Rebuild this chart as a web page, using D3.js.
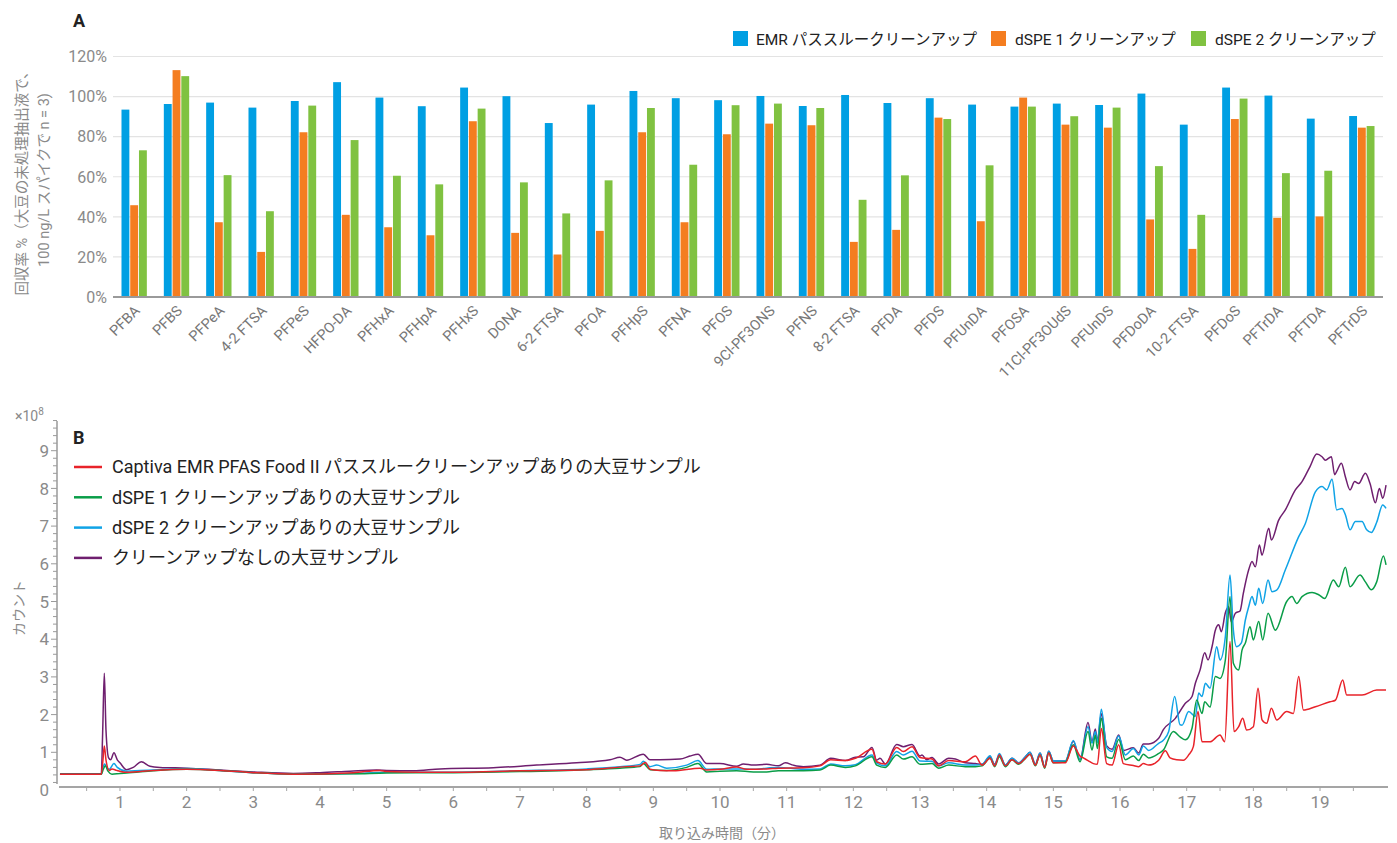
<!DOCTYPE html>
<html>
<head>
<meta charset="utf-8">
<script src="https://cdn.jsdelivr.net/npm/d3@7"></script>
<style>
  html, body { margin: 0; padding: 0; background: #fff; }
  svg { display: block; font-family: Roboto, "Noto Sans CJK JP", sans-serif; }
</style>
</head>
<body>
<svg id="chart" width="1397" height="843"></svg>
<script>
// ---------------- Panel A data ----------------
const compounds = ["PFBA","PFBS","PFPeA","4-2 FTSA","PFPeS","HFPO-DA","PFHxA","PFHpA","PFHxS","DONA","6-2 FTSA","PFOA","PFHpS","PFNA","PFOS","9Cl-PF3ONS","PFNS","8-2 FTSA","PFDA","PFDS","PFUnDA","PFOSA","11Cl-PF3OUdS","PFUnDS","PFDoDA","10-2 FTSA","PFDoS","PFTrDA","PFTDA","PFTrDS"];
const emrRecovery  = [93.5, 96.3, 97, 94.5, 97.8, 107.2, 99.5, 95.2, 104.5, 100.2, 86.8, 96, 102.8, 99.2, 98.2, 100.3, 95.3, 100.8, 96.8, 99.2, 96, 95, 96.5, 95.8, 101.5, 86, 104.5, 100.5, 89, 90.3];
const dspe1Recovery = [45.8, 113.2, 37.3, 22.5, 82.2, 41, 34.8, 30.8, 87.7, 32, 21.2, 33, 82.2, 37.3, 81.2, 86.5, 85.7, 27.5, 33.5, 89.5, 37.8, 99.5, 86, 84.5, 38.7, 24, 88.8, 39.5, 40.2, 84.5];
const dspe2Recovery = [73.2, 110.2, 60.8, 42.8, 95.5, 78.3, 60.5, 56.2, 94, 57.2, 41.7, 58.2, 94.3, 66, 95.7, 96.5, 94.3, 48.5, 60.7, 88.8, 65.7, 95, 90.2, 94.5, 65.3, 41, 99, 61.8, 63, 85.3];
const recoveryTicks = [0, 20, 40, 60, 80, 100, 120];
const barSeriesNames = ["EMR パススルークリーンアップ", "dSPE 1 クリーンアップ", "dSPE 2 クリーンアップ"];

// ---------------- Panel B data (retention time in min, counts in 1e8) ----------------
const noCleanTime = [0.1,0.72,0.74,0.765,0.79,0.83,0.86,0.91,0.96,1.0,1.1,1.2,1.32,1.45,1.6,2.0,2.5,3.0,3.6,4.0,4.45,4.85,5.0,5.4,5.8,6.6,7.25,7.85,8.35,8.5,8.6,8.85,8.95,9.1,9.4,9.55,9.67,9.8,10.0,10.25,10.35,10.5,10.7,10.875,10.98,11.1,11.25,11.5,11.66,11.88,12.03,12.15,12.28,12.35,12.4,12.48,12.65,12.75,12.88,13.0,13.03,13.1,13.18,13.28,13.43,13.53,13.68,13.83,13.93,14.05,14.12,14.19,14.28,14.38,14.48,14.58,14.65,14.73,14.8,14.87,14.93,15.0,15.18,15.3,15.4,15.52,15.58,15.63,15.66,15.72,15.8,15.88,15.98,16.05,16.2,16.28,16.35,16.43,16.58,16.65,16.83,16.98,17.08,17.13,17.2,17.27,17.32,17.38,17.43,17.48,17.52,17.58,17.63,17.67,17.73,17.8,17.85,17.93,17.98,18.03,18.09,18.13,18.23,18.27,18.38,18.48,18.63,18.73,18.85,18.95,19.03,19.08,19.17,19.22,19.25,19.32,19.38,19.45,19.52,19.58,19.68,19.75,19.83,19.89,19.94,19.99];
const noCleanCounts = [0.43,0.43,1.5,3.1,1.6,0.85,0.8,0.99,0.8,0.72,0.54,0.6,0.75,0.63,0.6,0.58,0.53,0.48,0.44,0.46,0.5,0.53,0.52,0.51,0.56,0.59,0.66,0.72,0.8,0.87,0.79,0.95,0.8,0.8,0.82,0.9,0.95,0.7,0.7,0.63,0.69,0.66,0.68,0.64,0.72,0.66,0.62,0.66,0.84,0.78,0.87,0.88,1.13,0.79,0.84,0.69,1.21,1.15,1.21,0.9,0.93,0.8,0.86,0.69,0.84,0.82,0.72,0.7,0.68,0.88,0.68,0.93,0.66,0.84,0.72,0.88,1.0,0.68,0.98,0.62,1.03,0.77,0.77,1.29,0.8,1.79,1.28,1.62,1.3,2.02,1.17,1.08,1.46,1.05,1.12,0.98,1.22,1.22,1.37,1.6,1.9,2.3,2.48,2.83,3.18,3.64,3.45,3.8,4.24,4.38,4.2,4.7,4.86,4.45,4.69,4.75,5.22,5.84,6.06,5.92,6.5,6.23,6.94,6.63,7.16,7.43,7.96,8.18,8.58,8.91,8.84,8.75,8.84,8.36,8.45,8.67,8.31,7.96,8.18,8.13,8.4,8.13,7.62,8.0,7.74,8.09];

const dspe2Time = [0.1,0.72,0.745,0.77,0.8,0.84,0.91,0.96,1.1,1.3,1.6,2.0,2.5,3.0,3.6,4.5,5.0,6.0,7.0,8.0,8.5,8.8,8.85,8.95,9.05,9.2,9.5,9.67,9.8,10.0,10.25,10.5,10.7,10.875,11.25,11.5,11.66,11.88,12.03,12.28,12.35,12.48,12.65,12.75,12.88,13.0,13.18,13.28,13.43,13.68,13.83,13.93,14.05,14.12,14.19,14.28,14.38,14.48,14.58,14.65,14.73,14.8,14.87,14.93,15.0,15.18,15.3,15.4,15.52,15.58,15.63,15.66,15.72,15.8,15.88,15.98,16.08,16.2,16.28,16.35,16.43,16.58,16.65,16.73,16.82,16.9,16.93,17.03,17.13,17.18,17.23,17.28,17.35,17.45,17.5,17.58,17.65,17.7,17.75,17.82,17.88,17.93,17.98,18.03,18.08,18.14,18.22,18.28,18.35,18.48,18.68,18.78,18.93,19.03,19.1,19.18,19.25,19.33,19.38,19.45,19.53,19.63,19.7,19.77,19.85,19.94,19.99];
const dspe2Counts = [0.42,0.42,0.6,0.69,0.6,0.55,0.7,0.6,0.5,0.52,0.54,0.57,0.52,0.46,0.42,0.44,0.47,0.47,0.51,0.56,0.62,0.68,0.76,0.62,0.66,0.58,0.66,0.78,0.55,0.56,0.56,0.55,0.58,0.6,0.55,0.56,0.69,0.64,0.67,0.93,0.71,0.64,1.02,0.93,1.03,0.77,0.76,0.64,0.72,0.66,0.66,0.68,0.91,0.66,0.97,0.66,0.84,0.72,0.88,1.0,0.68,0.98,0.62,1.03,0.77,0.77,1.31,0.8,1.68,1.24,1.55,1.26,2.14,1.13,1.02,1.43,0.93,1.1,0.93,1.17,1.05,1.24,1.32,1.55,2.48,1.73,1.72,2.08,1.95,2.57,2.48,2.83,2.7,3.8,3.45,4.07,5.7,4.24,3.8,3.9,4.51,4.86,5.13,4.9,5.35,4.95,5.57,5.26,5.3,5.84,6.72,7.07,7.91,8.05,7.96,8.24,7.43,7.47,7.3,6.9,7.12,7.12,6.9,6.83,7.1,7.56,7.47];

const dspe1Time = [0.1,0.72,0.75,0.78,0.82,0.88,1.0,1.1,1.5,2.0,2.5,3.0,3.6,4.5,5.0,6.0,7.0,8.0,8.5,8.8,8.85,8.95,9.2,9.5,9.67,9.8,10.0,10.25,10.5,10.7,10.875,11.25,11.5,11.66,11.88,12.03,12.28,12.35,12.48,12.65,12.75,12.88,13.0,13.18,13.28,13.43,13.68,13.83,13.93,14.05,14.12,14.19,14.28,14.38,14.48,14.58,14.65,14.73,14.8,14.87,14.93,15.0,15.18,15.3,15.4,15.52,15.58,15.63,15.66,15.72,15.8,15.88,15.98,16.08,16.2,16.28,16.35,16.43,16.58,16.65,16.8,16.9,16.98,17.08,17.15,17.23,17.27,17.35,17.43,17.5,17.58,17.65,17.7,17.78,17.83,17.88,17.95,18.0,18.08,18.14,18.22,18.33,18.5,18.58,18.65,18.73,18.88,18.98,19.07,19.2,19.28,19.38,19.45,19.6,19.68,19.77,19.85,19.95,19.99];
const dspe1Counts = [0.42,0.42,0.55,0.64,0.5,0.42,0.44,0.45,0.51,0.55,0.52,0.46,0.42,0.43,0.45,0.46,0.49,0.54,0.58,0.62,0.7,0.54,0.52,0.6,0.7,0.48,0.5,0.51,0.48,0.48,0.51,0.51,0.53,0.66,0.6,0.64,0.88,0.66,0.6,0.93,0.82,0.88,0.68,0.7,0.58,0.66,0.62,0.62,0.64,0.84,0.62,0.88,0.62,0.8,0.68,0.84,0.95,0.64,0.93,0.58,0.98,0.72,0.74,1.2,0.75,1.55,1.06,1.45,1.1,1.9,0.88,0.84,1.34,0.8,0.9,0.78,0.95,0.85,0.97,1.06,1.55,1.41,1.33,1.64,2.39,2.03,2.34,2.2,3.01,2.96,3.45,5.13,3.36,3.18,3.71,3.9,4.33,3.98,4.47,3.98,4.69,4.24,5.0,5.13,4.95,5.13,5.24,5.18,5.08,5.57,5.39,5.91,5.39,5.7,5.52,5.31,5.52,6.21,5.97];

const emrTime = [0.1,0.72,0.745,0.765,0.79,0.84,0.88,0.95,1.1,1.5,2.0,2.5,3.0,3.6,4.5,4.9,5.0,5.5,6.0,7.0,8.0,8.6,8.8,8.88,8.95,9.1,9.3,9.7,9.8,10.0,10.25,10.4,10.7,10.875,11.25,11.5,11.66,11.88,12.03,12.28,12.35,12.48,12.65,12.75,12.88,13.0,13.18,13.28,13.43,13.68,13.83,13.93,14.05,14.12,14.19,14.28,14.38,14.48,14.58,14.65,14.73,14.8,14.87,14.93,15.0,15.18,15.3,15.4,15.45,15.52,15.6,15.66,15.72,15.8,15.88,15.98,16.05,16.2,16.28,16.35,16.43,16.58,16.68,16.75,16.85,16.95,17.03,17.1,17.17,17.23,17.35,17.5,17.57,17.65,17.71,17.78,17.84,17.9,18.0,18.07,18.13,18.2,18.27,18.35,18.5,18.6,18.68,18.75,18.93,19.15,19.23,19.34,19.4,19.63,19.85,19.99];
const emrCounts = [0.42,0.42,0.8,1.17,0.8,0.52,0.56,0.52,0.47,0.52,0.55,0.52,0.46,0.42,0.46,0.52,0.49,0.47,0.47,0.51,0.54,0.62,0.64,0.73,0.55,0.52,0.51,0.58,0.53,0.55,0.61,0.55,0.56,0.58,0.59,0.64,0.8,0.78,0.84,1.08,0.75,0.69,1.13,1.02,1.15,0.86,0.82,0.64,0.78,0.75,0.9,0.66,0.84,0.64,0.93,0.64,0.8,0.7,0.84,0.95,0.66,0.93,0.6,0.98,0.72,0.72,1.17,0.9,0.85,0.78,0.7,0.68,1.63,0.7,0.66,1.2,0.7,0.65,0.62,0.7,0.66,0.79,1.04,0.85,0.8,0.79,0.93,1.15,2.08,1.28,1.28,1.46,1.28,3.94,1.55,1.68,1.9,1.59,1.68,2.7,1.86,1.77,2.17,1.86,2.08,2.03,3.01,2.12,2.21,2.34,2.38,2.92,2.52,2.52,2.65,2.65];

const minuteTicks = [1,2,3,4,5,6,7,8,9,10,11,12,13,14,15,16,17,18,19];
const countTicks = [0,1,2,3,4,5,6,7,8,9];
const lineLegendNames = [
  "Captiva EMR PFAS Food II パススルークリーンアップありの大豆サンプル",
  "dSPE 1 クリーンアップありの大豆サンプル",
  "dSPE 2 クリーンアップありの大豆サンプル",
  "クリーンアップなしの大豆サンプル"
];

// ---------------- Drawing ----------------
const svg = d3.select("#chart");
const gray = "#8a8a8a";
const barColors = ["#009fe3", "#f47d20", "#80c241"];

// ===== Panel A =====
const xA = d3.scaleBand().domain(compounds).range([113, 1383]).paddingInner(0.36).paddingOuter(0.18);
const xA1 = d3.scaleBand().domain([0, 1, 2]).range([0, xA.bandwidth()]).padding(0.1);
const yA = d3.scaleLinear().domain([0, 120]).range([297, 56.5]);

svg.append("text").attr("x", 73).attr("y", 27).attr("font-size", 18).attr("font-weight", "bold")
  .attr("fill", "#222").text("A");

svg.append("g").selectAll("line").data(recoveryTicks.filter(d => d > 0)).join("line")
  .attr("x1", 113).attr("x2", 1383).attr("y1", d => yA(d)).attr("y2", d => yA(d))
  .attr("stroke", "#e3e3e3").attr("stroke-width", 1.2);

svg.append("g").selectAll("text").data(recoveryTicks).join("text")
  .attr("x", 107).attr("y", d => yA(d)).attr("dy", "0.36em").attr("text-anchor", "end")
  .attr("font-size", 16).attr("fill", gray).text(d => d + "%");

const seriesA = [emrRecovery, dspe1Recovery, dspe2Recovery];
const groups = svg.append("g").selectAll("g").data(compounds).join("g")
  .attr("transform", d => `translate(${xA(d)},0)`);
groups.selectAll("rect").data((d, i) => seriesA.map((s, k) => ({ k, v: s[i] }))).join("rect")
  .attr("x", d => xA1(d.k)).attr("width", xA1.bandwidth())
  .attr("y", d => yA(d.v)).attr("height", d => yA(0) - yA(d.v))
  .attr("fill", d => barColors[d.k]);

svg.append("line").attr("x1", 113).attr("x2", 1383).attr("y1", yA(0)).attr("y2", yA(0))
  .attr("stroke", "#9a9a9a").attr("stroke-width", 2);

svg.append("g").selectAll("text").data(compounds).join("text")
  .attr("transform", d => `translate(${xA(d) + xA.bandwidth() / 2 + 3},${308}) rotate(-45)`)
  .attr("text-anchor", "end").attr("dy", "0.35em")
  .attr("font-size", 14.5).attr("fill", "#777").text(d => d);

const yTitleA = svg.append("text").attr("transform", "translate(27,180) rotate(-90)")
  .attr("text-anchor", "middle").attr("font-size", 14.5).attr("fill", gray);
yTitleA.append("tspan").attr("x", 0).attr("dy", 0).text("回収率 %（大豆の未処理抽出液で、");
yTitleA.append("tspan").attr("x", 0).attr("dy", 22).text("100 ng/L スパイクで n = 3)");

const legA = [{ x: 733, tx: 756 }, { x: 991, tx: 1015 }, { x: 1191, tx: 1215 }];
legA.forEach((p, i) => {
  svg.append("rect").attr("x", p.x).attr("y", 31).attr("width", 15).attr("height", 15).attr("fill", barColors[i]);
  svg.append("text").attr("x", p.tx).attr("y", 44.5).attr("font-size", 15.5).attr("fill", "#222").text(barSeriesNames[i]);
});

// ===== Panel B =====
const xB = d3.scaleLinear().domain([0, 20]).range([53.3, 1386.7]);
const yB = d3.scaleLinear().domain([0, 10]).range([790, 413]);

svg.append("text").attr("x", 73).attr("y", 444).attr("font-size", 18).attr("font-weight", "bold")
  .attr("fill", "#222").text("B");

svg.append("line").attr("x1", 57).attr("x2", 57).attr("y1", 421).attr("y2", 784)
  .attr("stroke", "#9a9a9a").attr("stroke-width", 1.5);
const minorY = d3.range(1, 50).map(i => i * 0.2).filter(v => v <= 9.8);
svg.append("g").selectAll("line").data(minorY).join("line")
  .attr("x1", d => Math.abs(d - Math.round(d)) < 1e-6 ? 51 : 53).attr("x2", 57)
  .attr("y1", d => yB(d)).attr("y2", d => yB(d))
  .attr("stroke", "#9a9a9a").attr("stroke-width", 1);
svg.append("g").selectAll("text").data(countTicks).join("text")
  .attr("x", 49).attr("y", d => yB(d)).attr("dy", "0.36em").attr("text-anchor", "end")
  .attr("font-size", 17).attr("fill", gray).text(d => d);
const expo = svg.append("text").attr("x", 15).attr("y", 421).attr("font-size", 14).attr("fill", gray);
expo.append("tspan").text("×10");
expo.append("tspan").attr("dy", -6).attr("font-size", 10).text("8");

svg.append("text").attr("transform", "translate(24,608) rotate(-90)").attr("text-anchor", "middle")
  .attr("font-size", 14).attr("fill", gray).text("カウント");

svg.append("line").attr("x1", 59).attr("x2", 1388).attr("y1", 787).attr("y2", 787)
  .attr("stroke", "#a5a5a5").attr("stroke-width", 2);
const halfTicks = d3.range(1, 40).map(i => i * 0.5);
svg.append("g").selectAll("line").data(halfTicks).join("line")
  .attr("x1", d => xB(d)).attr("x2", d => xB(d)).attr("y1", 787).attr("y2", 791)
  .attr("stroke", "#a5a5a5").attr("stroke-width", 1);
svg.append("g").selectAll("text").data(minuteTicks).join("text")
  .attr("x", d => xB(d)).attr("y", 808).attr("text-anchor", "middle")
  .attr("font-size", 17).attr("fill", gray).text(d => d);
svg.append("text").attr("x", 722).attr("y", 838).attr("text-anchor", "middle")
  .attr("font-size", 14).attr("fill", gray).text("取り込み時間（分）");

const lineColors = ["#e8232a", "#0a9d48", "#10a3e6", "#6f1f6f"];
const seriesB = [
  { t: noCleanTime, v: noCleanCounts, c: lineColors[3] },
  { t: dspe2Time, v: dspe2Counts, c: lineColors[2] },
  { t: dspe1Time, v: dspe1Counts, c: lineColors[1] },
  { t: emrTime, v: emrCounts, c: lineColors[0] }
];
const lineGen = d3.line().x(d => xB(d[0])).y(d => yB(d[1])).curve(d3.curveMonotoneX);
svg.append("g").selectAll("path").data(seriesB).join("path")
  .attr("d", s => lineGen(s.t.map((t, i) => [t, s.v[i]])))
  .attr("fill", "none").attr("stroke", s => s.c).attr("stroke-width", 1.5)
  .attr("stroke-linejoin", "round");

lineLegendNames.forEach((name, i) => {
  const y = 467 + i * 30.3;
  svg.append("line").attr("x1", 74).attr("x2", 102).attr("y1", y).attr("y2", y)
    .attr("stroke", lineColors[i]).attr("stroke-width", 2.5);
  svg.append("text").attr("x", 112).attr("y", y).attr("dy", "0.36em")
    .attr("font-size", 18).attr("fill", "#222").text(name);
});
</script>
</body>
</html>
